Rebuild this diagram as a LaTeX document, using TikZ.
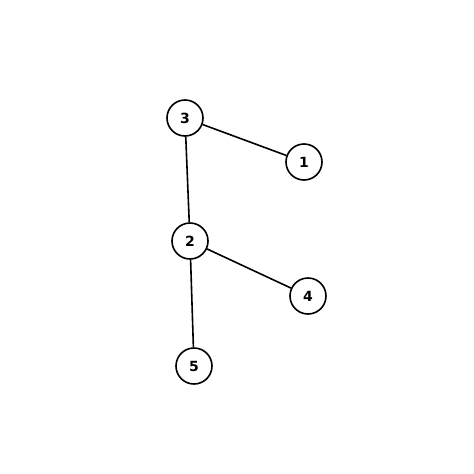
\documentclass[tikz,border=0pt]{standalone}
\usepackage{fontspec}
\setmainfont{DejaVu Sans}
\begin{document}
\begin{tikzpicture}[x=1pt,y=-1pt,
  vert/.style={circle,draw,line width=1.6pt,minimum size=36pt,inner sep=0pt,font=\bfseries\fontsize{14}{16}\selectfont},
  edge/.style={line width=1.6pt}]
\useasboundingbox (0,0) rectangle (474,474);
\node[vert] (n3) at (185,118) {3};
\node[vert] (n1) at (304,162) {1};
\node[vert] (n2) at (190,241) {2};
\node[vert] (n4) at (308,296) {4};
\node[vert] (n5) at (194,366) {5};
\draw[edge] (n3) -- (n1);
\draw[edge] (n3) -- (n2);
\draw[edge] (n2) -- (n4);
\draw[edge] (n2) -- (n5);
\end{tikzpicture}
\end{document}
